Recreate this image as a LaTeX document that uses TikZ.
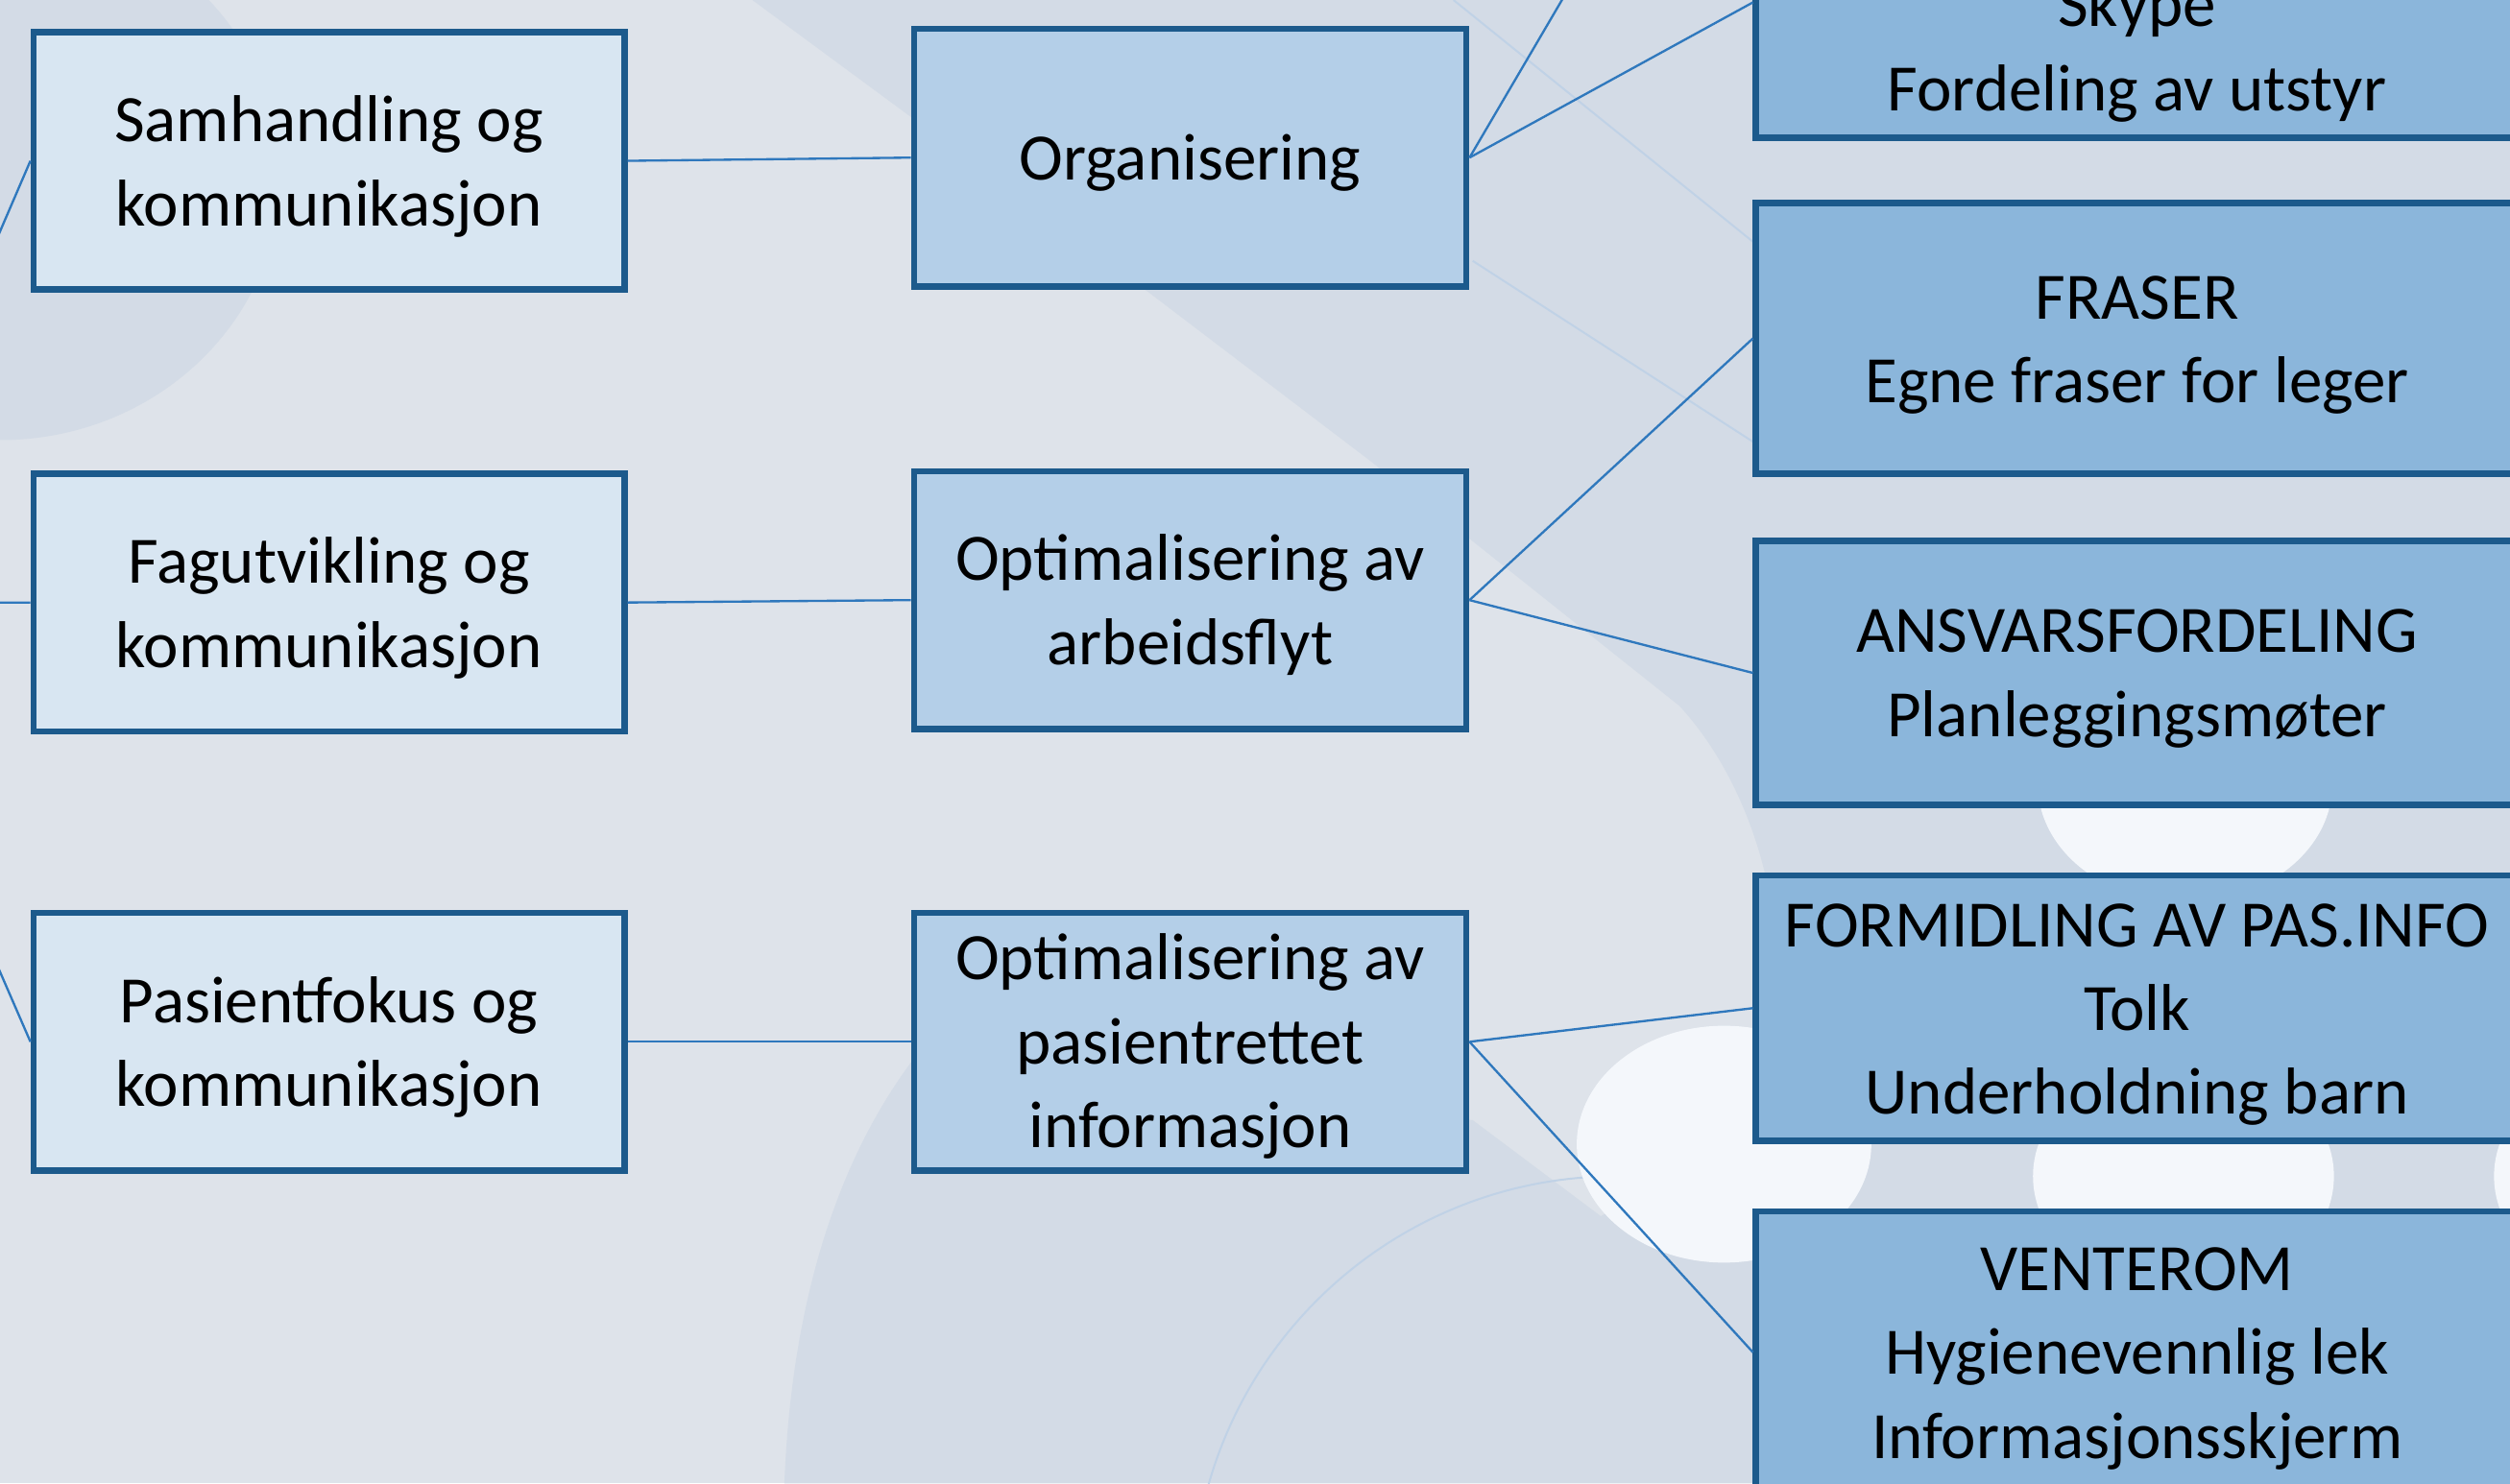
\documentclass[tikz,border=0pt]{standalone}
\usepackage{fontspec}
\setmainfont{Carlito}
\definecolor{bgbase}{HTML}{DEE3EA}
\definecolor{bgdark}{HTML}{D3DBE6}
\definecolor{bgwhite}{HTML}{F4F7FB}
\definecolor{bgline}{HTML}{C0D2E6}
\definecolor{bordc}{HTML}{1C5A8C}
\definecolor{lfill}{HTML}{D8E6F2}
\definecolor{mfill}{HTML}{B4CFE8}
\definecolor{rfill}{HTML}{8BB6DB}
\definecolor{linkc}{HTML}{2F78BD}
\begin{document}
\begin{tikzpicture}[x={(0.5pt,0)}, y={(0,-0.5pt)},
  box/.style={draw=bordc, line width=2pt, inner sep=0pt},
  lbox/.style={box, fill=lfill, minimum width=184.5pt, minimum height=80.5pt},
  mbox/.style={box, fill=mfill, minimum width=172.5pt, minimum height=80.5pt},
  rbox/.style={box, fill=rfill, minimum width=238pt},
  txt/.style={align=center, inner sep=0pt, font=\fontsize{20.7}{26.2}\selectfont},
  link/.style={draw=linkc, line width=0.7pt},
  faint/.style={draw=bgline, line width=0.6pt}]

\useasboundingbox (0,0) rectangle (1568,927);
\clip (0,0) rectangle (1568,927);

% background shading
\fill[bgbase] (0,0) rectangle (1568,927);
\fill[bgdark] (0,110) ellipse [x radius=175, y radius=165];
\fill[bgdark] (470,0) -- (1568,0) -- (1568,927) -- (1110,927) -- (1110,600)
  .. controls (1108,540) and (1085,480) .. (1049,441)
  -- (921,339) -- (856,288) -- (718,183) -- cycle;
\fill[bgdark] (490,927) .. controls (495,800) and (530,710) .. (580,650)
  -- (920,700) -- (1000,760) -- (1110,700) -- (1110,927) -- cycle;
\draw[faint] (1010,1000) circle [radius=265];
\draw[faint] (908,0) -- (1095,151);
\draw[faint] (920,163) -- (1095,276);
\fill[bgwhite] (1077,715) ellipse [x radius=92, y radius=74];
\fill[bgwhite] (1365,490) ellipse [x radius=92, y radius=74];
\fill[bgwhite] (1364,735) ellipse [x radius=94, y radius=74];
\fill[bgwhite] (1652,735) ellipse [x radius=94, y radius=74];

% first level
\node[lbox] (b1) at (205.5,100.5) {};
\node[lbox] (b2) at (205.5,376.5) {};
\node[lbox] (b3) at (205.5,651) {};
\node[txt] (b1t) at ([yshift=-1.75pt]b1.center) {Samhandling og\\kommunikasjon};
\node[txt] (b2t) at ([yshift=-1.75pt]b2.center) {Fagutvikling og\\kommunikasjon};
\node[txt] (b3t) at ([yshift=-1.75pt]b3.center) {Pasientfokus og\\kommunikasjon};

% second level
\node[mbox] (m1) at (743.5,98.5) {};
\node[mbox] (m2) at (743.5,375) {};
\node[mbox] (m3) at (743.5,651) {};
\node[txt] (m1t) at ([yshift=-1.5pt]m1.center) {Organisering};
\node[txt] (m2t) at ([yshift=-1.5pt]m2.center) {Optimalisering av\\arbeidsflyt};
\node[txt] (m3t) at ([yshift=-1.5pt]m3.center) {Optimalisering av\\pasientrettet\\informasjon};

% third level
\node[rbox, minimum height=84.5pt] (r1) at (1335,1.5) {};
\node[rbox, minimum height=84.5pt] (r2) at (1335,211.5) {};
\node[rbox, minimum height=82.5pt] (r3) at (1335,420.5) {};
\node[rbox, minimum height=83pt] (r4) at (1335,630) {};
\node[rbox, minimum height=88pt] (r5) at (1335,845) {};
\node[txt] (r1t) at (1335,32) {Skype\\Fordeling av utstyr};
\node[txt] (r2t) at ([yshift=-2pt]r2.center) {FRASER\\Egne fraser for leger};
\node[txt] (r3t) at ([yshift=-1.75pt]r3.center) {ANSVARSFORDELING\\Planleggingsmøter};
\node[txt] (r4t) at ([yshift=-2pt]r4.center) {FORMIDLING AV PAS.INFO\\Tolk\\Underholdning barn};
\node[txt] (r5t) at ([yshift=-2pt]r5.center) {VENTEROM\\Hygienevennlig lek\\Informasjonsskjerm};

% connectors
\coordinate (root) at (-100,377);
\coordinate (upper) at (1093,-200);
\draw[link] (root) -- (b1.west);
\draw[link] (root) -- (b2.west);
\draw[link] (root) -- (b3.west);
\draw[link] (b1.east) -- (m1.west);
\draw[link] (b2.east) -- (m2.west);
\draw[link] (b3.east) -- (m3.west);
\draw[link] (m1.east) -- (upper);
\draw[link] (m1.east) -- (r1.west);
\draw[link] (m2.east) -- (r2.west);
\draw[link] (m2.east) -- (r3.west);
\draw[link] (m3.east) -- (r4.west);
\draw[link] (m3.east) -- (r5.west);
\end{tikzpicture}
\end{document}
